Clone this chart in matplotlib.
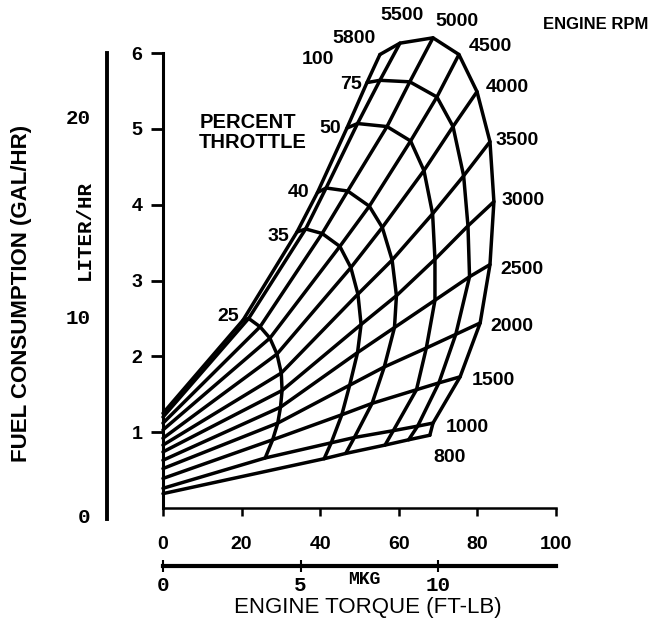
import numpy as np
import matplotlib
matplotlib.use("Agg")
import matplotlib.pyplot as plt
from matplotlib import font_manager

nan = np.nan

# engine speed lines, listed from the highest rpm down to the lowest
rpm_labels = ["5800", "5500", "5000", "4500", "4000", "3500",
              "3000", "2500", "2000", "1500", "1000", "800"]
# fuel (liter/hr) where each rpm line leaves the zero-torque axis
rpm_start = [1.25, 1.20, 1.12, 1.03, 0.92, 0.83, 0.74, 0.63, 0.52, 0.39, 0.26, 0.19]

throttle_labels = ["25", "35", "40", "50", "75", "100"]

# crossing points of every rpm line with every throttle curve (torque ft-lb, fuel liter/hr)
arc25_tq = [20.4, 21.8, 24.7, 27.2, 29.0, 30.1, 30.3, 29.9, 29.2, 27.9, 26.0, nan]
arc25_fc = [2.48, 2.50, 2.39, 2.24, 2.03, 1.78, 1.55, 1.33, 1.12, 0.90, 0.66, nan]
arc35_tq = [34.1, 36.3, 40.5, 45.0, 47.8, 49.6, 50.4, 49.5, 47.5, 45.5, 42.8, 41.0]
arc35_fc = [3.64, 3.68, 3.62, 3.45, 3.17, 2.82, 2.42, 2.05, 1.62, 1.23, 0.86, 0.65]
arc40_tq = [39.3, 41.5, 47.0, 52.5, 55.8, 58.3, 59.4, 58.9, 56.3, 53.2, 48.7, 46.5]
arc40_fc = [4.16, 4.22, 4.18, 3.98, 3.70, 3.27, 2.80, 2.38, 1.86, 1.38, 0.93, 0.72]
arc50_tq = [46.8, 49.5, 57.0, 63.0, 66.4, 68.6, 69.2, 69.2, 67.0, 64.5, 58.6, 56.5]
arc50_fc = [5.01, 5.07, 5.03, 4.84, 4.45, 3.88, 3.28, 2.74, 2.11, 1.56, 1.02, 0.83]
arc75_tq = [51.9, 55.2, 62.8, 69.7, 73.8, 76.5, 77.6, 78.0, 74.5, 70.2, 64.8, 62.5]
arc75_fc = [5.61, 5.64, 5.62, 5.42, 5.03, 4.38, 3.72, 3.05, 2.29, 1.65, 1.08, 0.90]
arc100_tq = [55.2, 60.3, 68.7, 75.3, 79.9, 83.2, 84.2, 83.2, 80.7, 75.6, 68.7, 67.9]
arc100_fc = [5.98, 6.13, 6.20, 5.98, 5.49, 4.83, 4.04, 3.21, 2.44, 1.73, 1.12, 0.96]

arcs_tq = [arc25_tq, arc35_tq, arc40_tq, arc50_tq, arc75_tq, arc100_tq]
arcs_fc = [arc25_fc, arc35_fc, arc40_fc, arc50_fc, arc75_fc, arc100_fc]

torque_ticks = [0, 20, 40, 60, 80, 100]
liter_ticks = [1, 2, 3, 4, 5, 6]
gal_ticks = [0, 10, 20]
kgm_ticks = [0, 5, 10]

# where the labels sit (torque, fuel)
throttle_label_pos = [(16.5, 2.53), (29.3, 3.58), (34.4, 4.16),
                      (42.5, 5.01), (47.8, 5.58), (39.4, 5.91)]
rpm_label_pos = [(48.6, 6.19), (60.8, 6.49), (74.8, 6.41), (83.2, 6.09),
                 (87.5, 5.54), (90.1, 4.85), (91.6, 4.06), (91.3, 3.14),
                 (88.8, 2.39), (84.0, 1.68), (77.4, 1.06), (72.8, 0.66)]

# use a narrow face for the digits if one is installed
installed = {f.name for f in font_manager.fontManager.ttflist}
if "Liberation Sans Narrow" in installed:
    narrow, digit_size = ["Liberation Sans Narrow", "DejaVu Sans"], 15
else:
    narrow, digit_size = ["Liberation Sans", "DejaVu Sans"], 14
mono = ["Liberation Mono", "DejaVu Sans Mono"]
sans = ["Liberation Sans", "DejaVu Sans"]

fig = plt.figure(figsize=(6.63, 6.26), dpi=100)
ax = fig.add_axes([163 / 663, (626 - 519.4) / 626, 393 / 663, 466.4 / 626])
ax.set_xlim(0, 100)
ax.set_ylim(-0.15, 6.0)

line_kw = dict(color="black", lw=2.5, clip_on=False,
               solid_joinstyle="round", solid_capstyle="round")

# constant rpm lines: start on the torque=0 axis, pass through every throttle curve
for i in range(len(rpm_labels)):
    xs = [0.0] + [a[i] for a in arcs_tq if not np.isnan(a[i])]
    ys = [rpm_start[i]] + [a[i] for a in arcs_fc if not np.isnan(a[i])]
    ax.plot(xs, ys, **line_kw)

# constant throttle curves
for tq, fc in zip(arcs_tq, arcs_fc):
    ax.plot(tq, fc, **line_kw)

for lab, (x, y) in zip(throttle_labels, throttle_label_pos):
    ax.text(x, y, lab, ha="center", va="center", fontsize=digit_size,
            fontweight="bold", family=narrow)
for lab, (x, y) in zip(rpm_labels, rpm_label_pos):
    ax.text(x, y, lab, ha="center", va="center", fontsize=digit_size,
            fontweight="bold", family=narrow, clip_on=False)

ax.text(9.2, 4.95, "PERCENT\nTHROTTLE", ha="left", va="center", fontsize=14.5,
        fontweight="bold", family=narrow, linespacing=1.05)
ax.text(110.0, 6.37, "ENGINE RPM", ha="center", va="center", fontsize=12,
        fontweight="bold", family=sans, clip_on=False)

# main axes
for side in ["top", "right"]:
    ax.spines[side].set_visible(False)
ax.spines["left"].set_bounds(0, 6)
ax.spines["left"].set_linewidth(2.2)
ax.spines["bottom"].set_position(("data", 0))
ax.spines["bottom"].set_bounds(0, 100)
ax.spines["bottom"].set_linewidth(1.8)
ax.set_xticks(torque_ticks)
ax.set_yticks(liter_ticks)
ax.tick_params(axis="y", direction="out", length=9, width=2, pad=6)
ax.tick_params(axis="x", direction="out", length=6, width=1.8, pad=14)
for t in ax.get_xticklabels() + ax.get_yticklabels():
    t.set_family(narrow)
    t.set_fontweight("bold")
    t.set_fontsize(digit_size)

# gallon scale on the far left
gal = ax.secondary_yaxis(-0.1425, functions=(lambda v: (v + 0.1) * 3.8,
                                             lambda g: g / 3.8 - 0.1))
gal.set_yticks(gal_ticks)
gal.spines["left"].set_linewidth(2.8)
gal.tick_params(length=0, pad=12)
for t in gal.get_yticklabels():
    t.set_family(mono)
    t.set_fontweight("bold")
    t.set_fontsize(15)

# kilogram-meter scale under the torque axis
kgm = ax.secondary_xaxis(-0.1, functions=(lambda v: v / 7.0, lambda k: k * 7.0))
kgm.set_xticks(kgm_ticks)
kgm.spines["bottom"].set_linewidth(3)
kgm.tick_params(direction="inout", length=8, width=1.5, pad=3)
for t in kgm.get_xticklabels():
    t.set_family(mono)
    t.set_fontweight("bold")
    t.set_fontsize(15)

fig.text(364 / 663, 1 - 579 / 626, "MKG", ha="center", va="center",
         fontsize=13, fontweight="bold", family=mono)
fig.text(368 / 663, 1 - 608 / 626, "ENGINE TORQUE (FT-LB)", ha="center",
         va="center", fontsize=16, family=sans)
fig.text(22 / 663, 1 - 293 / 626, "FUEL CONSUMPTION (GAL/HR)", ha="center",
         va="center", rotation=90, fontsize=16, fontweight="bold", family=sans)
fig.text(84 / 663, 1 - 230 / 626, "LITER/HR", ha="center", va="center",
         rotation=90, fontsize=15, fontweight="bold", family=mono)

fig.savefig("out.png", dpi=100)
